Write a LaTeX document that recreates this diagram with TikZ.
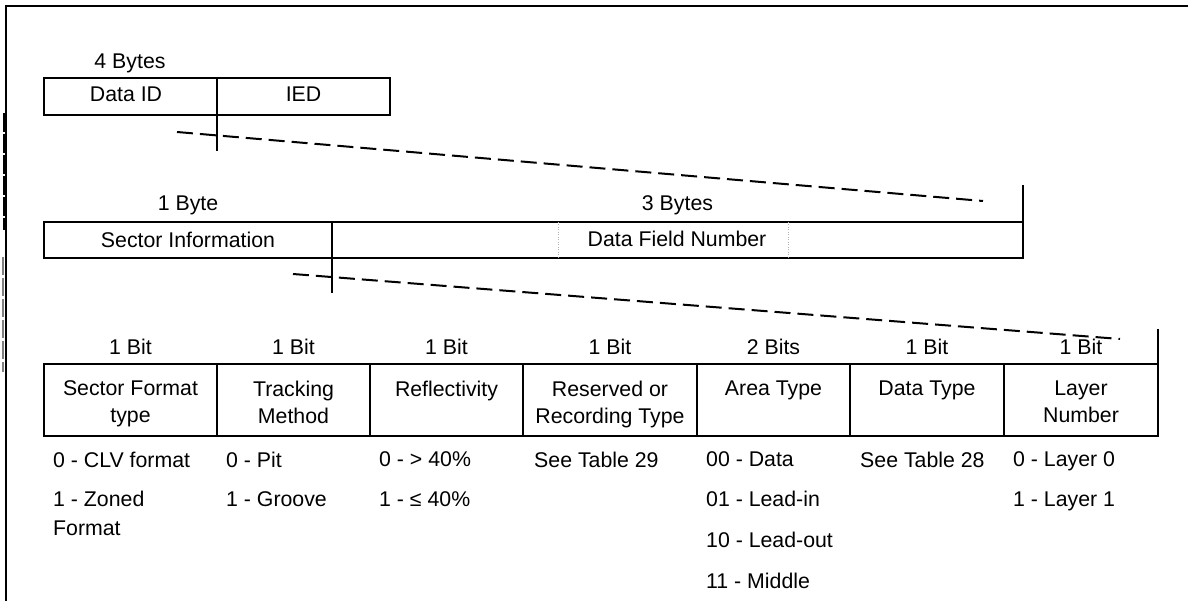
\documentclass[tikz,border=0pt]{standalone}
\usepackage{fontspec}
\setmainfont{Liberation Sans}
\begin{document}
\begin{tikzpicture}[x=1pt,y=-1pt,
  rule/.style={line width=2.3pt},
  cut/.style={line width=2pt, dash pattern=on 16pt off 7pt},
  fine/.style={line width=0.8pt, gray!60, dash pattern=on 1pt off 1.5pt},
  txt/.style={inner sep=0pt, font=\fontsize{21.3}{27}\selectfont},
  size/.style={txt, anchor=base},
  head/.style={txt, anchor=north, align=center},
  val/.style={inner sep=0pt, anchor=north west, align=left, font=\fontsize{21.3}{29}\selectfont}]
\useasboundingbox (0,0) rectangle (1188,601);

% page frame, open to the right and below
\draw[rule] (1188,5.7) -- (5.7,5.7) -- (5.7,601);
% change bars in the left margin
\draw[line width=2.5pt, dash pattern=on 19pt off 2pt] (3.8,113) -- (3.8,230);
\draw[line width=2pt, gray, dash pattern=on 18pt off 3pt] (3.3,257) -- (3.3,372);

% ---- 4-byte header: Data ID | IED
\draw[rule] (44,78) rectangle (390,115);
\draw[rule] (217,78) -- (217,151);
\node[size] (bytes4) at (130,68.3) {4 Bytes};
\node[size] (dataid) at (126,101.7) {Data ID};
\node[size] (ied) at (303.5,101.7) {IED};
\coordinate (cutA1) at (177,132);
\coordinate (cutA2) at (983,201);
\draw[cut] (cutA1) -- (cutA2);

% ---- Data ID: Sector Information | Data Field Number
\draw[rule] (1023,185) -- (1023,258) -- (44,258) -- (44,222) -- (1023,222);
\draw[rule] (332,222) -- (332,293);
\draw[fine] (558,222) -- (558,258);
\draw[fine] (788,222) -- (788,258);
\node[size] (byte1) at (188,211) {1 Byte};
\node[size] (bytes3) at (677.5,211) {3 Bytes};
\node[size] (secinfo) at (188,247.7) {Sector Information};
\node[size] (dfn) at (677,247) {Data Field Number};
\coordinate (cutB1) at (293,274);
\coordinate (cutB2) at (1120,339);
\draw[cut] (cutB1) -- (cutB2);

% ---- Sector Information bit fields
\draw[rule] (1158,329) -- (1158,436) -- (44,436) -- (44,364) -- (1158,364);
\foreach \x in {217,370,523,697,850,1004}
  \draw[rule] (\x,364) -- (\x,436);

\foreach \c/\n/\w [count=\i] in {
    130.5/1 Bit/Sector Format\\type,
    293.5/1 Bit/Tracking\\Method,
    446.5/1 Bit/Reflectivity,
    610/1 Bit/Reserved or\\Recording Type,
    773.5/2 Bits/Area Type,
    927/1 Bit/Data Type,
    1081/1 Bit/Layer\\Number}{
  \node[size] (bits\i) at (\c,354.3) {\n};
  \node[head] (field\i) at (\c,380.8) {\w};
}

% field values
\node[val] (v1a) at (53,451.7) {0 - CLV format};
\node[val] (v1b) at (53,491.2) {1 - Zoned\\Format};
\node[val] (v2a) at (226,451.7) {0 - Pit};
\node[val] (v2b) at (226,491.2) {1 - Groove};
\node[val] (v3a) at (379,451.7) {0 - > 40\%};
\node[val] (v3b) at (379,491.2) {1 - ≤ 40\%};
\node[val] (v4a) at (534,451.7) {See Table 29};
\node[val] (v5a) at (706,451.7) {00 - Data};
\node[val] (v5b) at (706,491.2) {01 - Lead-in};
\node[val] (v5c) at (706,532.2) {10 - Lead-out};
\node[val] (v5d) at (706,573.2) {11 - Middle};
\node[val] (v6a) at (860,451.7) {See Table 28};
\node[val] (v7a) at (1013,451.7) {0 - Layer 0};
\node[val] (v7b) at (1013,491.2) {1 - Layer 1};
\end{tikzpicture}
\end{document}
